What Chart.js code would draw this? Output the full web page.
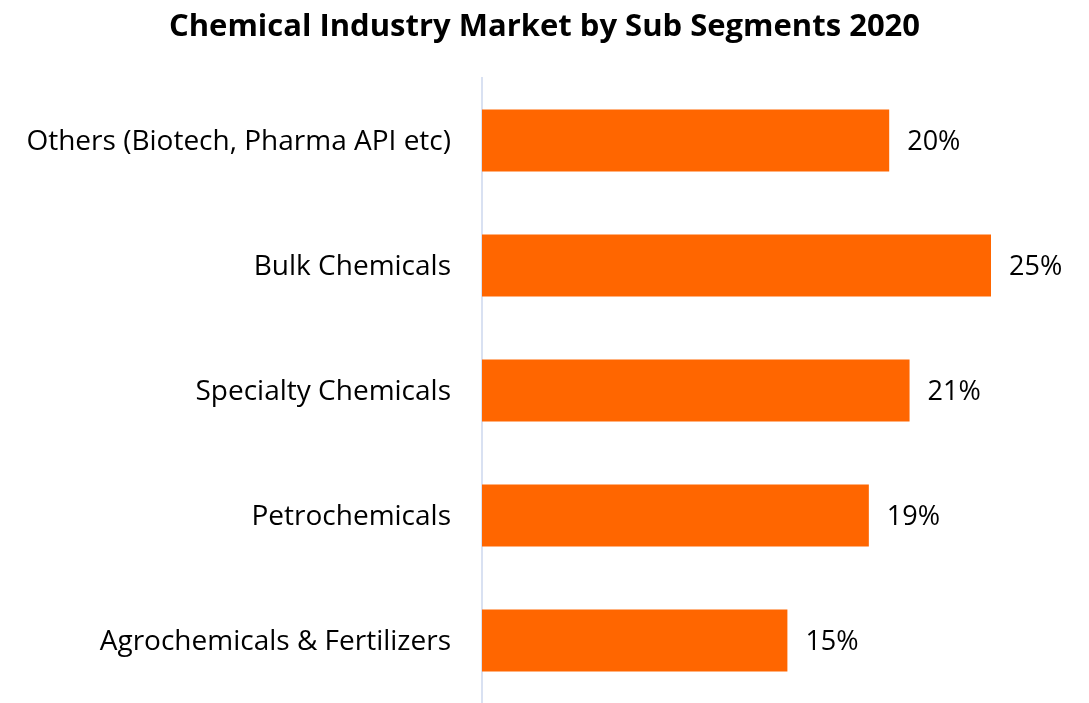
<!DOCTYPE html>
<html>
<head>
<meta charset="utf-8">
<script src="https://cdn.jsdelivr.net/npm/chart.js@4/dist/chart.umd.min.js"></script>
<style>
  html, body { margin: 0; padding: 0; background: #fff; }
  #wrap { width: 1089px; height: 703px; }
</style>
</head>
<body>
<div id="wrap"><canvas id="chart" width="1089" height="703"></canvas></div>
<script>
// Daten
const segments = [
  "Others (Biotech, Pharma API etc)",
  "Bulk Chemicals",
  "Specialty Chemicals",
  "Petrochemicals",
  "Agrochemicals & Fertilizers",
];
const shares = [20, 25, 21, 19, 15];
const chartTitle = "Chemical Industry Market by Sub Segments 2020";

const fontFamily = "'Open Sans', Lato, sans-serif";

// Titel mittig über die ganze Breite, Prozentwerte rechts neben den Balken
const valueLabels = {
  id: "valueLabels",
  afterDatasetsDraw(chart) {
    const ctx = chart.ctx;
    const meta = chart.getDatasetMeta(0);
    ctx.save();
    ctx.fillStyle = "#000";
    ctx.textBaseline = "middle";

    ctx.font = "bold 31px " + fontFamily;
    ctx.textAlign = "center";
    ctx.fillText(chartTitle, chart.width / 2, 27);

    ctx.font = "27px " + fontFamily;
    ctx.textAlign = "left";
    meta.data.forEach((bar, i) => {
      ctx.fillText(shares[i] + "%", bar.x + 18, bar.y + 2);
    });
    ctx.restore();
  },
};

new Chart(document.getElementById("chart"), {
  type: "bar",
  data: {
    labels: segments,
    datasets: [
      {
        data: shares,
        backgroundColor: "#FF6600",
        borderWidth: 0,
        categoryPercentage: 1,
        barPercentage: 0.496,
      },
    ],
  },
  options: {
    indexAxis: "y",
    responsive: false,
    animation: false,
    layout: { padding: { left: 0, right: 98, top: 78, bottom: 0 } },
    plugins: {
      legend: { display: false },
      tooltip: { enabled: false },
      title: { display: false },
    },
    scales: {
      x: { display: false, min: 0, max: 25 },
      y: {
        grid: { display: false, drawTicks: false },
        border: { display: true, color: "#D9E1F2", width: 2 },
        ticks: {
          color: "#000",
          padding: 31,
          labelOffset: 2,
          font: { family: fontFamily, size: 28 },
        },
        afterFit(scale) {
          scale.width = 482;
          scale.paddingTop = 0;
          scale.paddingBottom = 0;
        },
      },
    },
  },
  plugins: [valueLabels],
});
</script>
</body>
</html>
